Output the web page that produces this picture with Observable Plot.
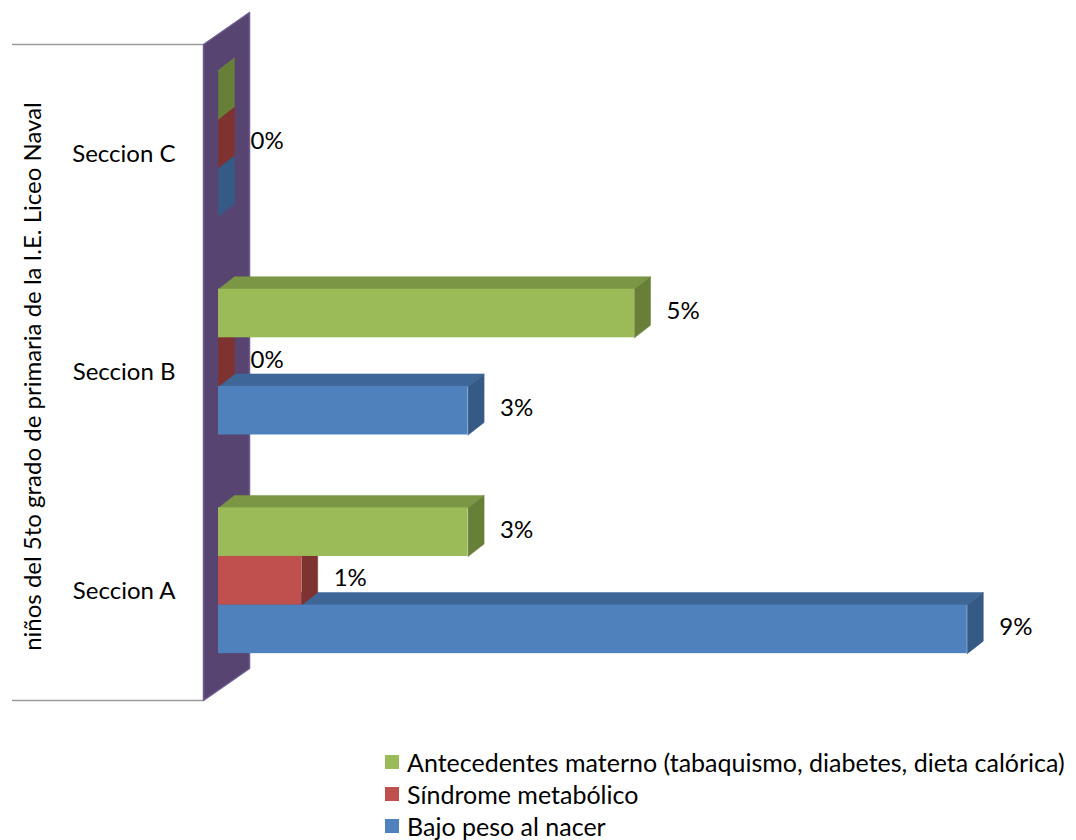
<!DOCTYPE html>
<html lang="es">
<head>
<meta charset="utf-8">
<script src="https://cdn.jsdelivr.net/npm/d3@7"></script>
<script src="https://cdn.jsdelivr.net/npm/@observablehq/plot@0.6"></script>
<style>
  html, body { margin: 0; background: #ffffff; }
  #chart svg { display: block; }
  #legend { margin-top: 1px; padding-left: 385px; font: 25px Lato, "Noto Sans", sans-serif; color: #000; }
  #legend .row { display: flex; align-items: center; height: 32px; white-space: nowrap; }
  #legend .sw { width: 14px; height: 14px; margin-right: 8px; flex: none; }
</style>
</head>
<body>
<div id="chart"></div>
<div id="legend"></div>
<script>
// Categories (bottom to top) and series (stacked inside each group, bottom to top)
const categories = ["Seccion A", "Seccion B", "Seccion C"];
const seriesNames = ["Bajo peso al nacer", "Síndrome metabólico", "Antecedentes materno (tabaquismo, diabetes, dieta calórica)"];
// Percent values per category
const bajoPeso = [9, 3, 0];
const sindrome = [1, 0, 0];
const antecedentes = [3, 5, 0];
// Series colours: front face, top face, end face
const frontColors = ["#4f81bd", "#c0504d", "#9bbb59"];
const topColors = ["#3e6797", "#9a3f3d", "#7b9645"];
const sideColors = ["#365a86", "#7e3331", "#687f38"];
const axisTitle = "niños del 5to grado de primaria de la I.E. Liceo Naval";

const seriesValues = [bajoPeso, sindrome, antecedentes];

// Layout
const W = 1076, H = 745;
const mL = 218, mR = 26, mT = 33.6, mB = H - 689.6;
const xDomain = [0, 10];
const gapWidth = 1.5;                       // gap between groups, in bar heights
const step = seriesNames.length + gapWidth;
const yDomain = [-gapWidth / 2, categories.length * step - gapWidth / 2];
const kx = (W - mL - mR) / (xDomain[1] - xDomain[0]);
const ky = (H - mT - mB) / (yDomain[1] - yDomain[0]);
const px2x = (p) => p / kx;                 // horizontal pixels -> x units
const px2y = (p) => -p / ky;                // downward pixels -> y units

// 3D depth of the bars and of the side wall (in pixels)
const barDepth = {dx: 16, dy: -12.5};
const wallFront = {dx: -15, dy: 10.4};
const wallBack = {dx: 31, dy: -21.6};

// Bars
const bars = [];
categories.forEach((cat, g) => {
  seriesNames.forEach((s, i) => {
    const y1 = g * step + i;
    bars.push({cat, series: s, i, value: seriesValues[i][g], y1, y2: y1 + 1});
  });
});

// Top and end faces as closed polygons
const ddx = px2x(barDepth.dx), ddy = px2y(barDepth.dy);
const faces = [];
bars.forEach((b, k) => {
  const v = b.value;
  const top = [[0, b.y2], [v, b.y2], [v + ddx, b.y2 + ddy], [ddx, b.y2 + ddy], [0, b.y2]];
  const side = [[v, b.y1], [v, b.y2], [v + ddx, b.y2 + ddy], [v + ddx, b.y1 + ddy], [v, b.y1]];
  top.forEach(([x, y]) => faces.push({id: `t${k}`, x, y, color: topColors[b.i]}));
  side.forEach(([x, y]) => faces.push({id: `s${k}`, x, y, color: sideColors[b.i]}));
});

// Side wall of the plot box
const wf = {x: px2x(wallFront.dx), y: px2y(wallFront.dy)};
const wb = {x: px2x(wallBack.dx), y: px2y(wallBack.dy)};
const wall = [
  {x: wf.x, y: yDomain[0] + wf.y},
  {x: wf.x, y: yDomain[1] + wf.y},
  {x: wb.x, y: yDomain[1] + wb.y},
  {x: wb.x, y: yDomain[0] + wb.y},
  {x: wf.x, y: yDomain[0] + wf.y}
];

// Category axis sits on the front plane
const groupCenters = categories.map((_, g) => g * step + seriesNames.length / 2);
const axisTicks = groupCenters.map((c) => c + wf.y);
const tickName = (d) => categories[Math.round((d - wf.y - seriesNames.length / 2) / step)];

// Data labels (zero labels kept only for the middle series)
const labels = bars.filter((b) => b.value > 0 || b.i === 1);

const chart = Plot.plot({
  width: W,
  height: H,
  marginLeft: mL,
  marginRight: mR,
  marginTop: mT,
  marginBottom: mB,
  style: {fontFamily: "Lato, 'Noto Sans', sans-serif", fontSize: "24px", color: "#000", background: "#fff"},
  x: {domain: xDomain, axis: null},
  y: {domain: yDomain, ticks: axisTicks, tickFormat: tickName, tickSize: 0, tickPadding: 43, label: null},
  marks: [
    // boundary lines of the category axis
    Plot.ruleY([yDomain[0] + wf.y, yDomain[1] + wf.y], {x1: px2x(12 - mL), x2: wf.x, stroke: "#9a9a9a", strokeWidth: 1.5}),
    // side wall
    Plot.line(wall, {x: "x", y: "y", fill: "#574470", stroke: "#6e5c93", strokeWidth: 1.5}),
    // top and end faces of the bars
    Plot.line(faces, {x: "x", y: "y", z: "id", fill: "color", stroke: "color", strokeWidth: 0.5}),
    // front faces of the bars
    Plot.rect(bars, {x1: 0, x2: "value", y1: "y1", y2: "y2", fill: (d) => frontColors[d.i]}),
    // value labels
    Plot.text(labels, {x: "value", y: (d) => (d.y1 + d.y2) / 2, text: (d) => `${d.value}%`, textAnchor: "start", dx: 32, dy: -2, fontSize: 24, fill: "#000"}),
    // axis title
    Plot.text([axisTitle], {text: (d) => d, frameAnchor: "left", textAnchor: "middle", rotate: -90, dx: 33 - mL, dy: 14.4, fontSize: 24, fill: "#000"})
  ]
});
document.getElementById("chart").appendChild(chart);

// Legend, listed top series first
const legend = document.getElementById("legend");
for (let i = seriesNames.length - 1; i >= 0; --i) {
  const row = document.createElement("div");
  row.className = "row";
  const sw = document.createElement("span");
  sw.className = "sw";
  sw.style.background = frontColors[i];
  const tx = document.createElement("span");
  tx.textContent = seriesNames[i];
  row.append(sw, tx);
  legend.appendChild(row);
}
</script>
</body>
</html>
